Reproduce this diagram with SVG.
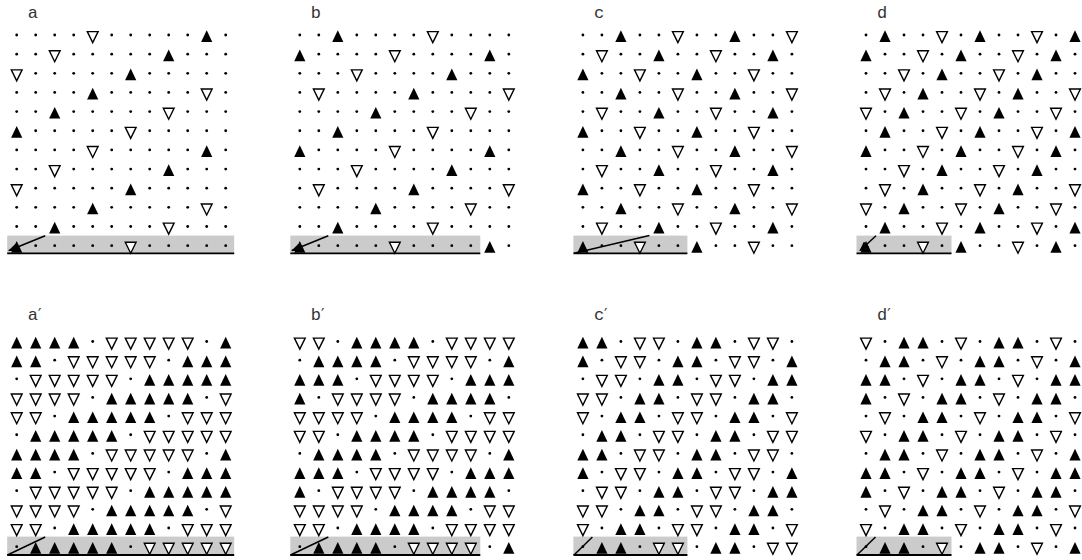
<svg xmlns="http://www.w3.org/2000/svg" width="1082" height="560" viewBox="0 0 1082 560">
<style>
.lbl{font-family:"Liberation Mono","DejaVu Sans Mono",monospace;font-size:17px;fill:#333}
.pr{font-family:"DejaVu Sans",sans-serif;font-size:15px}
.band{fill:#cbcbcb}
.base{stroke:#000;stroke-width:1.8}
.cn{stroke:#000;stroke-width:1.5;fill:none}
</style>
<defs>
<marker id="ah" markerWidth="10" markerHeight="8" refX="9" refY="4" orient="auto" markerUnits="userSpaceOnUse"><path d="M0,0 L10,4 L0,8Z" fill="#000"/></marker>
<circle id="o" r="1.4" fill="#000"/>
<path id="u" d="M0,-4.7 L5.6,7 L-5.6,7Z" fill="#000"/>
<path id="v" d="M-5.4,-3.4 H5.4 L0,7.6Z" fill="#fff" stroke="#000" stroke-width="1.4" stroke-linejoin="miter"/>
<!-- panel a rows -->
<g id="ra0"><use href="#o" x="0"/><use href="#o" x="19"/><use href="#o" x="38"/><use href="#o" x="57"/><use href="#v" x="76"/><use href="#o" x="95"/><use href="#o" x="114"/><use href="#o" x="133"/><use href="#o" x="152"/><use href="#o" x="171"/><use href="#u" x="190"/><use href="#o" x="209"/></g>
<g id="ra1"><use href="#o" x="0"/><use href="#o" x="19"/><use href="#v" x="38"/><use href="#o" x="57"/><use href="#o" x="76"/><use href="#o" x="95"/><use href="#o" x="114"/><use href="#o" x="133"/><use href="#u" x="152"/><use href="#o" x="171"/><use href="#o" x="190"/><use href="#o" x="209"/></g>
<g id="ra2"><use href="#v" x="0"/><use href="#o" x="19"/><use href="#o" x="38"/><use href="#o" x="57"/><use href="#o" x="76"/><use href="#o" x="95"/><use href="#u" x="114"/><use href="#o" x="133"/><use href="#o" x="152"/><use href="#o" x="171"/><use href="#o" x="190"/><use href="#o" x="209"/></g>
<g id="ra3"><use href="#o" x="0"/><use href="#o" x="19"/><use href="#o" x="38"/><use href="#o" x="57"/><use href="#u" x="76"/><use href="#o" x="95"/><use href="#o" x="114"/><use href="#o" x="133"/><use href="#o" x="152"/><use href="#o" x="171"/><use href="#v" x="190"/><use href="#o" x="209"/></g>
<g id="ra4"><use href="#o" x="0"/><use href="#o" x="19"/><use href="#u" x="38"/><use href="#o" x="57"/><use href="#o" x="76"/><use href="#o" x="95"/><use href="#o" x="114"/><use href="#o" x="133"/><use href="#v" x="152"/><use href="#o" x="171"/><use href="#o" x="190"/><use href="#o" x="209"/></g>
<g id="ra5"><use href="#u" x="0"/><use href="#o" x="19"/><use href="#o" x="38"/><use href="#o" x="57"/><use href="#o" x="76"/><use href="#o" x="95"/><use href="#v" x="114"/><use href="#o" x="133"/><use href="#o" x="152"/><use href="#o" x="171"/><use href="#o" x="190"/><use href="#o" x="209"/></g>
<!-- panel b rows -->
<g id="rb0"><use href="#o" x="0"/><use href="#o" x="19"/><use href="#u" x="38"/><use href="#o" x="57"/><use href="#o" x="76"/><use href="#o" x="95"/><use href="#o" x="114"/><use href="#v" x="133"/><use href="#o" x="152"/><use href="#o" x="171"/><use href="#o" x="190"/><use href="#o" x="209"/></g>
<g id="rb1"><use href="#u" x="0"/><use href="#o" x="19"/><use href="#o" x="38"/><use href="#o" x="57"/><use href="#o" x="76"/><use href="#v" x="95"/><use href="#o" x="114"/><use href="#o" x="133"/><use href="#o" x="152"/><use href="#o" x="171"/><use href="#u" x="190"/><use href="#o" x="209"/></g>
<g id="rb2"><use href="#o" x="0"/><use href="#o" x="19"/><use href="#o" x="38"/><use href="#v" x="57"/><use href="#o" x="76"/><use href="#o" x="95"/><use href="#o" x="114"/><use href="#o" x="133"/><use href="#u" x="152"/><use href="#o" x="171"/><use href="#o" x="190"/><use href="#o" x="209"/></g>
<g id="rb3"><use href="#o" x="0"/><use href="#v" x="19"/><use href="#o" x="38"/><use href="#o" x="57"/><use href="#o" x="76"/><use href="#o" x="95"/><use href="#u" x="114"/><use href="#o" x="133"/><use href="#o" x="152"/><use href="#o" x="171"/><use href="#o" x="190"/><use href="#v" x="209"/></g>
<g id="rb4"><use href="#o" x="0"/><use href="#o" x="19"/><use href="#o" x="38"/><use href="#o" x="57"/><use href="#u" x="76"/><use href="#o" x="95"/><use href="#o" x="114"/><use href="#o" x="133"/><use href="#o" x="152"/><use href="#v" x="171"/><use href="#o" x="190"/><use href="#o" x="209"/></g>
<!-- panel c rows -->
<g id="rc0"><use href="#o" x="0"/><use href="#o" x="19"/><use href="#u" x="38"/><use href="#o" x="57"/><use href="#o" x="76"/><use href="#v" x="95"/><use href="#o" x="114"/><use href="#o" x="133"/><use href="#u" x="152"/><use href="#o" x="171"/><use href="#o" x="190"/><use href="#v" x="209"/></g>
<g id="rc1"><use href="#o" x="0"/><use href="#v" x="19"/><use href="#o" x="38"/><use href="#o" x="57"/><use href="#u" x="76"/><use href="#o" x="95"/><use href="#o" x="114"/><use href="#v" x="133"/><use href="#o" x="152"/><use href="#o" x="171"/><use href="#u" x="190"/><use href="#o" x="209"/></g>
<g id="rc2"><use href="#u" x="0"/><use href="#o" x="19"/><use href="#o" x="38"/><use href="#v" x="57"/><use href="#o" x="76"/><use href="#o" x="95"/><use href="#u" x="114"/><use href="#o" x="133"/><use href="#o" x="152"/><use href="#v" x="171"/><use href="#o" x="190"/><use href="#o" x="209"/></g>
<!-- panel d rows -->
<g id="rd0"><use href="#o" x="0"/><use href="#u" x="19"/><use href="#o" x="38"/><use href="#o" x="57"/><use href="#v" x="76"/><use href="#o" x="95"/><use href="#u" x="114"/><use href="#o" x="133"/><use href="#o" x="152"/><use href="#v" x="171"/><use href="#o" x="190"/><use href="#u" x="209"/></g>
<g id="rd1"><use href="#u" x="0"/><use href="#o" x="19"/><use href="#o" x="38"/><use href="#v" x="57"/><use href="#o" x="76"/><use href="#u" x="95"/><use href="#o" x="114"/><use href="#o" x="133"/><use href="#v" x="152"/><use href="#o" x="171"/><use href="#u" x="190"/><use href="#o" x="209"/></g>
<g id="rd2"><use href="#o" x="0"/><use href="#o" x="19"/><use href="#v" x="38"/><use href="#o" x="57"/><use href="#u" x="76"/><use href="#o" x="95"/><use href="#o" x="114"/><use href="#v" x="133"/><use href="#o" x="152"/><use href="#u" x="171"/><use href="#o" x="190"/><use href="#o" x="209"/></g>
<g id="rd3"><use href="#o" x="0"/><use href="#v" x="19"/><use href="#o" x="38"/><use href="#u" x="57"/><use href="#o" x="76"/><use href="#o" x="95"/><use href="#v" x="114"/><use href="#o" x="133"/><use href="#u" x="152"/><use href="#o" x="171"/><use href="#o" x="190"/><use href="#v" x="209"/></g>
<g id="rd4"><use href="#v" x="0"/><use href="#o" x="19"/><use href="#u" x="38"/><use href="#o" x="57"/><use href="#o" x="76"/><use href="#v" x="95"/><use href="#o" x="114"/><use href="#u" x="133"/><use href="#o" x="152"/><use href="#o" x="171"/><use href="#v" x="190"/><use href="#o" x="209"/></g>
<!-- panel a' rows -->
<g id="re0"><use href="#u" x="0"/><use href="#u" x="19"/><use href="#u" x="38"/><use href="#u" x="57"/><use href="#o" x="76"/><use href="#v" x="95"/><use href="#v" x="114"/><use href="#v" x="133"/><use href="#v" x="152"/><use href="#v" x="171"/><use href="#o" x="190"/><use href="#u" x="209"/></g>
<g id="re1"><use href="#u" x="0"/><use href="#u" x="19"/><use href="#o" x="38"/><use href="#v" x="57"/><use href="#v" x="76"/><use href="#v" x="95"/><use href="#v" x="114"/><use href="#v" x="133"/><use href="#o" x="152"/><use href="#u" x="171"/><use href="#u" x="190"/><use href="#u" x="209"/></g>
<g id="re2"><use href="#o" x="0"/><use href="#v" x="19"/><use href="#v" x="38"/><use href="#v" x="57"/><use href="#v" x="76"/><use href="#v" x="95"/><use href="#o" x="114"/><use href="#u" x="133"/><use href="#u" x="152"/><use href="#u" x="171"/><use href="#u" x="190"/><use href="#u" x="209"/></g>
<g id="re3"><use href="#v" x="0"/><use href="#v" x="19"/><use href="#v" x="38"/><use href="#v" x="57"/><use href="#o" x="76"/><use href="#u" x="95"/><use href="#u" x="114"/><use href="#u" x="133"/><use href="#u" x="152"/><use href="#u" x="171"/><use href="#o" x="190"/><use href="#v" x="209"/></g>
<g id="re4"><use href="#v" x="0"/><use href="#v" x="19"/><use href="#o" x="38"/><use href="#u" x="57"/><use href="#u" x="76"/><use href="#u" x="95"/><use href="#u" x="114"/><use href="#u" x="133"/><use href="#o" x="152"/><use href="#v" x="171"/><use href="#v" x="190"/><use href="#v" x="209"/></g>
<g id="re5"><use href="#o" x="0"/><use href="#u" x="19"/><use href="#u" x="38"/><use href="#u" x="57"/><use href="#u" x="76"/><use href="#u" x="95"/><use href="#o" x="114"/><use href="#v" x="133"/><use href="#v" x="152"/><use href="#v" x="171"/><use href="#v" x="190"/><use href="#v" x="209"/></g>
<!-- panel b' rows -->
<g id="rf0"><use href="#v" x="0"/><use href="#v" x="19"/><use href="#o" x="38"/><use href="#u" x="57"/><use href="#u" x="76"/><use href="#u" x="95"/><use href="#u" x="114"/><use href="#o" x="133"/><use href="#v" x="152"/><use href="#v" x="171"/><use href="#v" x="190"/><use href="#v" x="209"/></g>
<g id="rf1"><use href="#o" x="0"/><use href="#u" x="19"/><use href="#u" x="38"/><use href="#u" x="57"/><use href="#u" x="76"/><use href="#o" x="95"/><use href="#v" x="114"/><use href="#v" x="133"/><use href="#v" x="152"/><use href="#v" x="171"/><use href="#o" x="190"/><use href="#u" x="209"/></g>
<g id="rf2"><use href="#u" x="0"/><use href="#u" x="19"/><use href="#u" x="38"/><use href="#o" x="57"/><use href="#v" x="76"/><use href="#v" x="95"/><use href="#v" x="114"/><use href="#v" x="133"/><use href="#o" x="152"/><use href="#u" x="171"/><use href="#u" x="190"/><use href="#u" x="209"/></g>
<g id="rf3"><use href="#u" x="0"/><use href="#o" x="19"/><use href="#v" x="38"/><use href="#v" x="57"/><use href="#v" x="76"/><use href="#v" x="95"/><use href="#o" x="114"/><use href="#u" x="133"/><use href="#u" x="152"/><use href="#u" x="171"/><use href="#u" x="190"/><use href="#o" x="209"/></g>
<g id="rf4"><use href="#v" x="0"/><use href="#v" x="19"/><use href="#v" x="38"/><use href="#v" x="57"/><use href="#o" x="76"/><use href="#u" x="95"/><use href="#u" x="114"/><use href="#u" x="133"/><use href="#u" x="152"/><use href="#o" x="171"/><use href="#v" x="190"/><use href="#v" x="209"/></g>
<!-- panel c' rows -->
<g id="rg0"><use href="#u" x="0"/><use href="#u" x="19"/><use href="#o" x="38"/><use href="#v" x="57"/><use href="#v" x="76"/><use href="#o" x="95"/><use href="#u" x="114"/><use href="#u" x="133"/><use href="#o" x="152"/><use href="#v" x="171"/><use href="#v" x="190"/><use href="#o" x="209"/></g>
<g id="rg1"><use href="#u" x="0"/><use href="#o" x="19"/><use href="#v" x="38"/><use href="#v" x="57"/><use href="#o" x="76"/><use href="#u" x="95"/><use href="#u" x="114"/><use href="#o" x="133"/><use href="#v" x="152"/><use href="#v" x="171"/><use href="#o" x="190"/><use href="#u" x="209"/></g>
<g id="rg2"><use href="#o" x="0"/><use href="#v" x="19"/><use href="#v" x="38"/><use href="#o" x="57"/><use href="#u" x="76"/><use href="#u" x="95"/><use href="#o" x="114"/><use href="#v" x="133"/><use href="#v" x="152"/><use href="#o" x="171"/><use href="#u" x="190"/><use href="#u" x="209"/></g>
<g id="rg3"><use href="#v" x="0"/><use href="#v" x="19"/><use href="#o" x="38"/><use href="#u" x="57"/><use href="#u" x="76"/><use href="#o" x="95"/><use href="#v" x="114"/><use href="#v" x="133"/><use href="#o" x="152"/><use href="#u" x="171"/><use href="#u" x="190"/><use href="#o" x="209"/></g>
<g id="rg4"><use href="#v" x="0"/><use href="#o" x="19"/><use href="#u" x="38"/><use href="#u" x="57"/><use href="#o" x="76"/><use href="#v" x="95"/><use href="#v" x="114"/><use href="#o" x="133"/><use href="#u" x="152"/><use href="#u" x="171"/><use href="#o" x="190"/><use href="#v" x="209"/></g>
<g id="rg5"><use href="#o" x="0"/><use href="#u" x="19"/><use href="#u" x="38"/><use href="#o" x="57"/><use href="#v" x="76"/><use href="#v" x="95"/><use href="#o" x="114"/><use href="#u" x="133"/><use href="#u" x="152"/><use href="#o" x="171"/><use href="#v" x="190"/><use href="#v" x="209"/></g>
<!-- panel d' rows -->
<g id="rh0"><use href="#v" x="0"/><use href="#o" x="19"/><use href="#u" x="38"/><use href="#u" x="57"/><use href="#o" x="76"/><use href="#v" x="95"/><use href="#o" x="114"/><use href="#u" x="133"/><use href="#u" x="152"/><use href="#o" x="171"/><use href="#v" x="190"/><use href="#o" x="209"/></g>
<g id="rh1"><use href="#o" x="0"/><use href="#u" x="19"/><use href="#u" x="38"/><use href="#o" x="57"/><use href="#v" x="76"/><use href="#o" x="95"/><use href="#u" x="114"/><use href="#u" x="133"/><use href="#o" x="152"/><use href="#v" x="171"/><use href="#o" x="190"/><use href="#u" x="209"/></g>
<g id="rh2"><use href="#u" x="0"/><use href="#u" x="19"/><use href="#o" x="38"/><use href="#v" x="57"/><use href="#o" x="76"/><use href="#u" x="95"/><use href="#u" x="114"/><use href="#o" x="133"/><use href="#v" x="152"/><use href="#o" x="171"/><use href="#u" x="190"/><use href="#u" x="209"/></g>
<g id="rh3"><use href="#u" x="0"/><use href="#o" x="19"/><use href="#v" x="38"/><use href="#o" x="57"/><use href="#u" x="76"/><use href="#u" x="95"/><use href="#o" x="114"/><use href="#v" x="133"/><use href="#o" x="152"/><use href="#u" x="171"/><use href="#u" x="190"/><use href="#o" x="209"/></g>
<g id="rh4"><use href="#o" x="0"/><use href="#v" x="19"/><use href="#o" x="38"/><use href="#u" x="57"/><use href="#u" x="76"/><use href="#o" x="95"/><use href="#v" x="114"/><use href="#o" x="133"/><use href="#u" x="152"/><use href="#u" x="171"/><use href="#o" x="190"/><use href="#v" x="209"/></g>
</defs>
<rect width="1082" height="560" fill="#fff"/>

<g id="panel-a" transform="translate(16.7,35)">
<rect class="band" x="-9.5" y="200.6" width="227" height="17.7"/>
<line class="base" x1="-9.5" y1="218.3" x2="217.5" y2="218.3"/>
<text class="lbl" x="11" y="-17">a</text>
<use href="#ra0"/><use href="#ra1" y="19.15"/><use href="#ra2" y="38.3"/><use href="#ra3" y="57.45"/><use href="#ra4" y="76.6"/><use href="#ra5" y="95.75"/><use href="#ra0" y="114.9"/><use href="#ra1" y="134.05"/><use href="#ra2" y="153.2"/><use href="#ra3" y="172.35"/><use href="#ra4" y="191.5"/><use href="#ra5" y="210.65"/>
</g>
<g id="panel-b" transform="translate(299.8,35)">
<rect class="band" x="-9.5" y="200.6" width="190" height="17.7"/>
<line class="base" x1="-9.5" y1="218.3" x2="180.5" y2="218.3"/>
<text class="lbl" x="11" y="-17">b</text>
<use href="#rb0"/><use href="#rb1" y="19.15"/><use href="#rb2" y="38.3"/><use href="#rb3" y="57.45"/><use href="#rb4" y="76.6"/><use href="#rb0" y="95.75"/><use href="#rb1" y="114.9"/><use href="#rb2" y="134.05"/><use href="#rb3" y="153.2"/><use href="#rb4" y="172.35"/><use href="#rb0" y="191.5"/><use href="#rb1" y="210.65"/>
</g>
<g id="panel-c" transform="translate(582.9,35)">
<rect class="band" x="-9.5" y="200.6" width="114" height="17.7"/>
<line class="base" x1="-9.5" y1="218.3" x2="104.5" y2="218.3"/>
<text class="lbl" x="11" y="-17">c</text>
<use href="#rc0"/><use href="#rc1" y="19.15"/><use href="#rc2" y="38.3"/><use href="#rc0" y="57.45"/><use href="#rc1" y="76.6"/><use href="#rc2" y="95.75"/><use href="#rc0" y="114.9"/><use href="#rc1" y="134.05"/><use href="#rc2" y="153.2"/><use href="#rc0" y="172.35"/><use href="#rc1" y="191.5"/><use href="#rc2" y="210.65"/>
</g>
<g id="panel-d" transform="translate(866,35)">
<rect class="band" x="-9.5" y="200.6" width="95" height="17.7"/>
<line class="base" x1="-9.5" y1="218.3" x2="85.5" y2="218.3"/>
<text class="lbl" x="11" y="-17">d</text>
<use href="#rd0"/><use href="#rd1" y="19.15"/><use href="#rd2" y="38.3"/><use href="#rd3" y="57.45"/><use href="#rd4" y="76.6"/><use href="#rd0" y="95.75"/><use href="#rd1" y="114.9"/><use href="#rd2" y="134.05"/><use href="#rd3" y="153.2"/><use href="#rd4" y="172.35"/><use href="#rd0" y="191.5"/><use href="#rd1" y="210.65"/>
</g>

<g id="panel-a-prime" transform="translate(16.7,341.5)">
<rect class="band" x="-9.5" y="195.1" width="227" height="18.4"/>
<line class="base" x1="-9.5" y1="213.5" x2="217.5" y2="213.5"/>
<text class="lbl" x="11" y="-21.5">a<tspan class="pr">′</tspan></text>
<use href="#re0"/><use href="#re1" y="18.65"/><use href="#re2" y="37.3"/><use href="#re3" y="55.95"/><use href="#re4" y="74.6"/><use href="#re5" y="93.25"/><use href="#re0" y="111.9"/><use href="#re1" y="130.55"/><use href="#re2" y="149.2"/><use href="#re3" y="167.85"/><use href="#re4" y="186.5"/><use href="#re5" y="205.15"/>
</g>
<g id="panel-b-prime" transform="translate(299.8,341.5)">
<rect class="band" x="-9.5" y="195.1" width="190" height="18.4"/>
<line class="base" x1="-9.5" y1="213.5" x2="180.5" y2="213.5"/>
<text class="lbl" x="11" y="-21.5">b<tspan class="pr">′</tspan></text>
<use href="#rf0"/><use href="#rf1" y="18.65"/><use href="#rf2" y="37.3"/><use href="#rf3" y="55.95"/><use href="#rf4" y="74.6"/><use href="#rf0" y="93.25"/><use href="#rf1" y="111.9"/><use href="#rf2" y="130.55"/><use href="#rf3" y="149.2"/><use href="#rf4" y="167.85"/><use href="#rf0" y="186.5"/><use href="#rf1" y="205.15"/>
</g>
<g id="panel-c-prime" transform="translate(582.9,341.5)">
<rect class="band" x="-9.5" y="195.1" width="114" height="18.4"/>
<line class="base" x1="-9.5" y1="213.5" x2="104.5" y2="213.5"/>
<text class="lbl" x="11" y="-21.5">c<tspan class="pr">′</tspan></text>
<use href="#rg0"/><use href="#rg1" y="18.65"/><use href="#rg2" y="37.3"/><use href="#rg3" y="55.95"/><use href="#rg4" y="74.6"/><use href="#rg5" y="93.25"/><use href="#rg0" y="111.9"/><use href="#rg1" y="130.55"/><use href="#rg2" y="149.2"/><use href="#rg3" y="167.85"/><use href="#rg4" y="186.5"/><use href="#rg5" y="205.15"/>
</g>
<g id="panel-d-prime" transform="translate(866,341.5)">
<rect class="band" x="-9.5" y="195.1" width="95" height="18.4"/>
<line class="base" x1="-9.5" y1="213.5" x2="85.5" y2="213.5"/>
<text class="lbl" x="11" y="-21.5">d<tspan class="pr">′</tspan></text>
<use href="#rh0"/><use href="#rh1" y="18.65"/><use href="#rh2" y="37.3"/><use href="#rh3" y="55.95"/><use href="#rh4" y="74.6"/><use href="#rh0" y="93.25"/><use href="#rh1" y="111.9"/><use href="#rh2" y="130.55"/><use href="#rh3" y="149.2"/><use href="#rh4" y="167.85"/><use href="#rh0" y="186.5"/><use href="#rh1" y="205.15"/>
</g>

<g id="connectors">
<line class="cn" x1="45.2" y1="235.8" x2="9" y2="250.5" marker-end="url(#ah)"/>
<line class="cn" x1="328.3" y1="235.8" x2="292" y2="250.5" marker-end="url(#ah)"/>
<line class="cn" x1="574" y1="253.3" x2="649.4" y2="235.6"/>
<line class="cn" x1="876" y1="235.8" x2="860" y2="250.5" marker-end="url(#ah)"/>
<line class="cn" x1="7.5" y1="555" x2="45.2" y2="537"/>
<line class="cn" x1="290.5" y1="555" x2="328.3" y2="537"/>
<line class="cn" x1="574" y1="555" x2="592.4" y2="537"/>
<line class="cn" x1="857" y1="555" x2="875.5" y2="537"/>
</g>
</svg>
